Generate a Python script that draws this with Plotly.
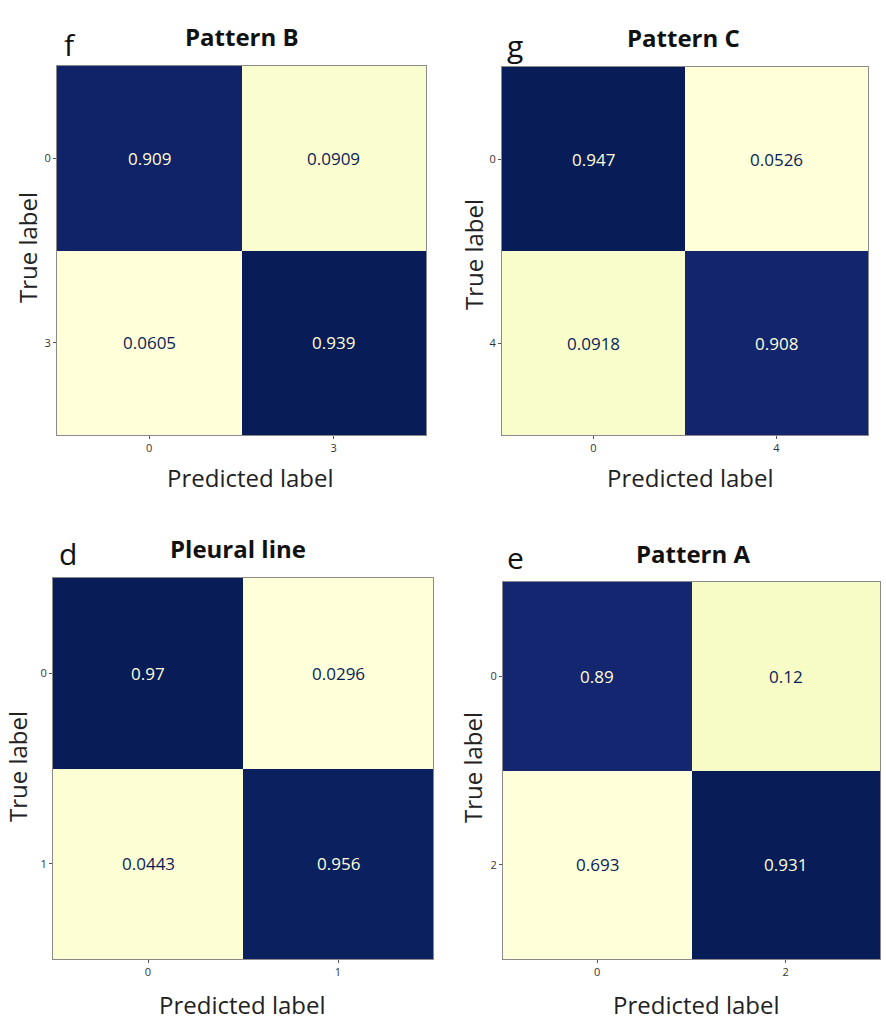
import plotly.graph_objects as go

# ---------------- data ----------------
panel_letters = ["f", "g", "d", "e"]
panel_titles = ["Pattern B", "Pattern C", "Pleural line", "Pattern A"]
class_labels_f = ["0", "3"]
class_labels_g = ["0", "4"]
class_labels_d = ["0", "1"]
class_labels_e = ["0", "2"]

values_f = [[0.909, 0.0909], [0.0605, 0.939]]
values_g = [[0.947, 0.0526], [0.0918, 0.908]]
values_d = [[0.97, 0.0296], [0.0443, 0.956]]
values_e = [[0.89, 0.12], [0.0693, 0.931]]

labels_f = [["0.909", "0.0909"], ["0.0605", "0.939"]]
labels_g = [["0.947", "0.0526"], ["0.0918", "0.908"]]
labels_d = [["0.97", "0.0296"], ["0.0443", "0.956"]]
labels_e = [["0.89", "0.12"], ["0.693", "0.931"]]

# ---------------- style ----------------
YLGNBU = ['#ffffd9', '#edf8b1', '#c7e9b4', '#7fcdbb', '#41b6c4',
          '#1d91c0', '#225ea8', '#253494', '#081d58']
colorscale = [[i / (len(YLGNBU) - 1), c] for i, c in enumerate(YLGNBU)]
FONT = "Open Sans"
W, H = 886, 1021

def px_x(x):
    return x / W

def px_y(y):
    return 1 - y / H

panels = [
    dict(vals=values_f, labs=labels_f, cls=class_labels_f,
         box=(57, 426, 66, 435), letter=(70, 44), title=(242, 37),
         ylab=(28, 248), xlab=(250, 477)),
    dict(vals=values_g, labs=labels_g, cls=class_labels_g,
         box=(502, 868, 67, 435), letter=(515, 45), title=(683, 38),
         ylab=(473, 255), xlab=(690, 477)),
    dict(vals=values_d, labs=labels_d, cls=class_labels_d,
         box=(53, 433, 578, 959), letter=(68, 553), title=(238, 548),
         ylab=(17, 767), xlab=(242, 1004)),
    dict(vals=values_e, labs=labels_e, cls=class_labels_e,
         box=(503, 880, 582, 959), letter=(515, 557), title=(693, 553),
         ylab=(472, 767), xlab=(696, 1004)),
]

fig = go.Figure()
annotations = []
layout_axes = {}

for i, p in enumerate(panels):
    n = i + 1
    xa = "x" if n == 1 else f"x{n}"
    ya = "y" if n == 1 else f"y{n}"
    vals = p["vals"]
    flat = [v for row in vals for v in row]
    zmin, zmax = min(flat), max(flat)
    thresh = (zmin + zmax) / 2
    fig.add_trace(go.Heatmap(
        z=vals, x=[0, 1], y=[0, 1], colorscale=colorscale,
        zmin=zmin, zmax=zmax, showscale=False, xaxis=xa, yaxis=ya,
        hoverinfo="skip"))
    for r in range(2):
        for c in range(2):
            annotations.append(dict(
                x=c, y=r, xref=xa, yref=ya, text=p["labs"][r][c],
                showarrow=False,
                font=dict(family=FONT, size=17,
                          color="#ffffd9" if vals[r][c] >= thresh else "#081d58")))
    x0, x1, y0, y1 = p["box"]
    axis_common = dict(showgrid=False, zeroline=False, showline=True,
                       linecolor="#8a8a8a", linewidth=1, mirror=True,
                       ticks="outside", ticklen=3, tickcolor="#555",
                       tickfont=dict(family=FONT, size=11, color="#333"),
                       tickvals=[0, 1], ticktext=p["cls"])
    layout_axes[("xaxis" if n == 1 else f"xaxis{n}")] = dict(
        axis_common, domain=[px_x(x0), px_x(x1)], range=[-0.5, 1.5],
        anchor=ya)
    layout_axes[("yaxis" if n == 1 else f"yaxis{n}")] = dict(
        axis_common, domain=[px_y(y1), px_y(y0)], range=[1.5, -0.5],
        anchor=xa)
    # letters, titles, axis labels
    lx, ly = p["letter"]
    annotations.append(dict(x=px_x(lx), y=px_y(ly), xref="paper", yref="paper",
                            text=panel_letters[i], showarrow=False,
                            xanchor="center", yanchor="middle",
                            font=dict(family=FONT, size=30, color="#111")))
    tx, ty = p["title"]
    annotations.append(dict(x=px_x(tx), y=px_y(ty), xref="paper", yref="paper",
                            text=f"<b>{panel_titles[i]}</b>", showarrow=False,
                            xanchor="center", yanchor="middle",
                            font=dict(family=FONT, size=24, color="#111")))
    yx, yy = p["ylab"]
    annotations.append(dict(x=px_x(yx), y=px_y(yy), xref="paper", yref="paper",
                            text="True label", showarrow=False, textangle=-90,
                            xanchor="center", yanchor="middle",
                            font=dict(family=FONT, size=24, color="#222")))
    xx, xy = p["xlab"]
    annotations.append(dict(x=px_x(xx), y=px_y(xy), xref="paper", yref="paper",
                            text="Predicted label", showarrow=False,
                            xanchor="center", yanchor="middle",
                            font=dict(family=FONT, size=24, color="#222")))

fig.update_layout(
    width=W, height=H, margin=dict(l=0, r=0, t=0, b=0),
    paper_bgcolor="white", plot_bgcolor="white",
    annotations=annotations, **layout_axes)

fig.write_html("out.html",
               config={"displayModeBar": False},
               post_script="document.body.style.margin='0';"
                           "document.body.style.overflow='hidden';")
